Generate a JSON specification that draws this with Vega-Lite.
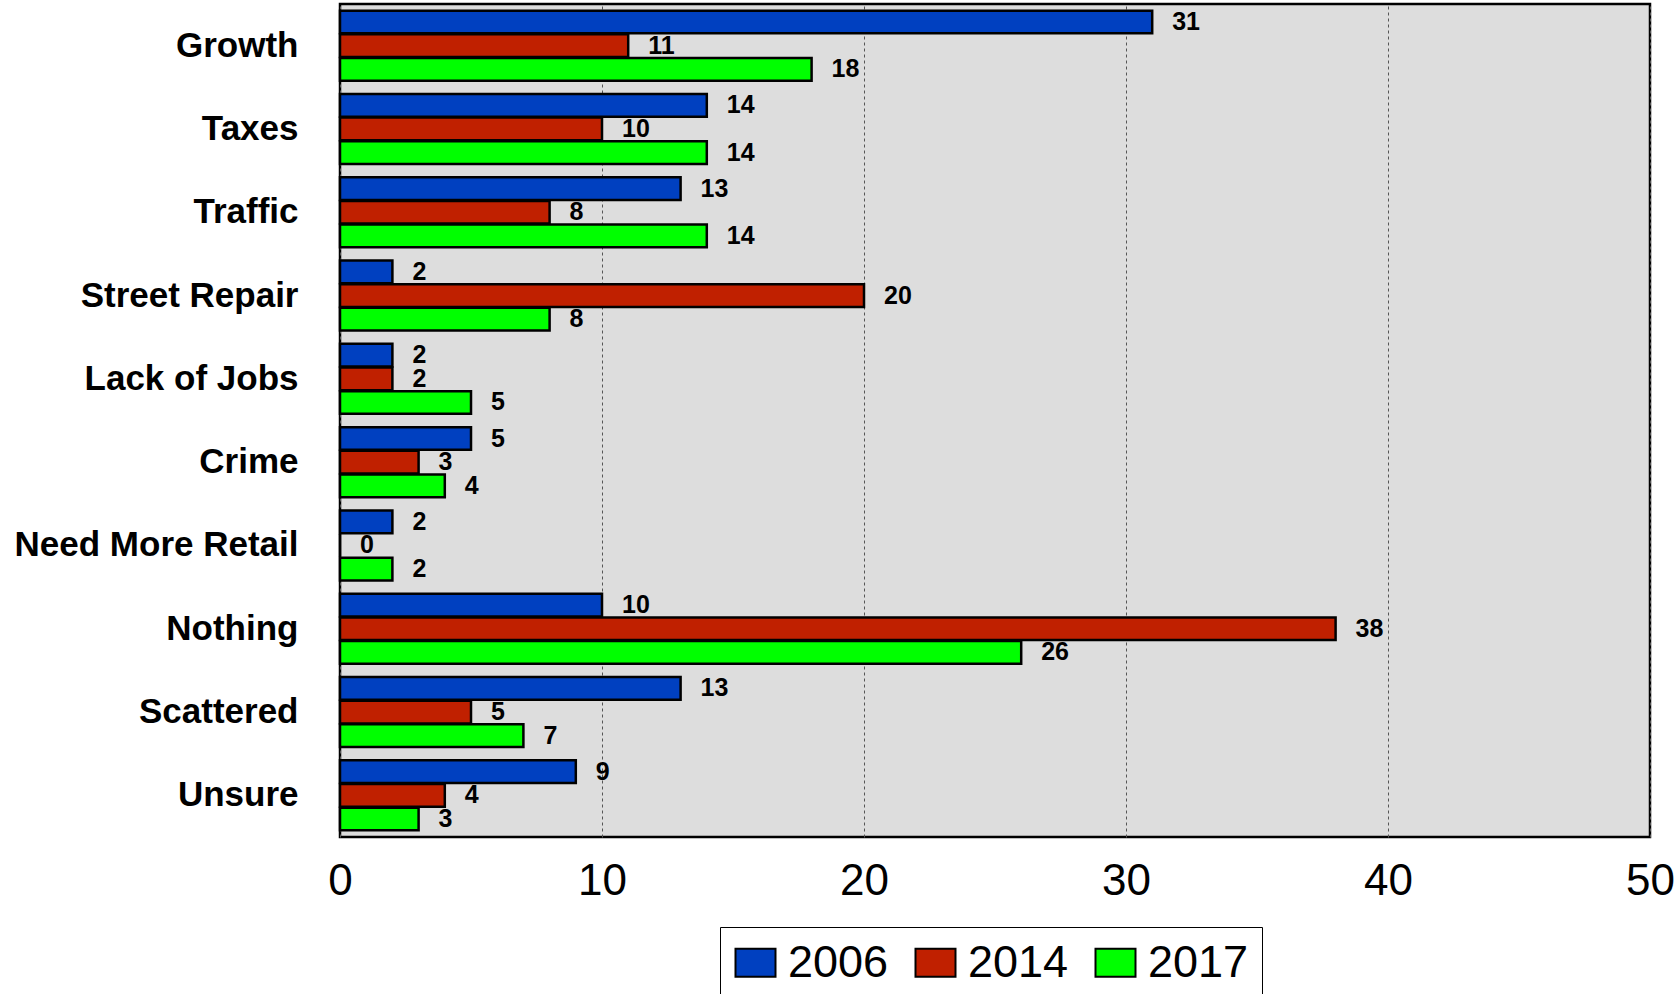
{
  "$schema": "https://vega.github.io/schema/vega-lite/v6.json",
  "width": 1310,
  "height": 833,
  "autosize": {"type": "none"},
  "padding": {"left": 340, "top": 4, "right": 26, "bottom": 157},
  "background": "white",
  "config": {
    "view": {"fill": "#DDDDDD", "stroke": "black", "strokeWidth": 2.5},
    "font": "Liberation Sans"
  },
  "data": {
    "values": [
      {"issue": "Growth", "year": "2006", "value": 31},
      {"issue": "Growth", "year": "2014", "value": 11},
      {"issue": "Growth", "year": "2017", "value": 18},
      {"issue": "Taxes", "year": "2006", "value": 14},
      {"issue": "Taxes", "year": "2014", "value": 10},
      {"issue": "Taxes", "year": "2017", "value": 14},
      {"issue": "Traffic", "year": "2006", "value": 13},
      {"issue": "Traffic", "year": "2014", "value": 8},
      {"issue": "Traffic", "year": "2017", "value": 14},
      {"issue": "Street Repair", "year": "2006", "value": 2},
      {"issue": "Street Repair", "year": "2014", "value": 20},
      {"issue": "Street Repair", "year": "2017", "value": 8},
      {"issue": "Lack of Jobs", "year": "2006", "value": 2},
      {"issue": "Lack of Jobs", "year": "2014", "value": 2},
      {"issue": "Lack of Jobs", "year": "2017", "value": 5},
      {"issue": "Crime", "year": "2006", "value": 5},
      {"issue": "Crime", "year": "2014", "value": 3},
      {"issue": "Crime", "year": "2017", "value": 4},
      {"issue": "Need More Retail", "year": "2006", "value": 2},
      {"issue": "Need More Retail", "year": "2014", "value": 0},
      {"issue": "Need More Retail", "year": "2017", "value": 2},
      {"issue": "Nothing", "year": "2006", "value": 10},
      {"issue": "Nothing", "year": "2014", "value": 38},
      {"issue": "Nothing", "year": "2017", "value": 26},
      {"issue": "Scattered", "year": "2006", "value": 13},
      {"issue": "Scattered", "year": "2014", "value": 5},
      {"issue": "Scattered", "year": "2017", "value": 7},
      {"issue": "Unsure", "year": "2006", "value": 9},
      {"issue": "Unsure", "year": "2014", "value": 4},
      {"issue": "Unsure", "year": "2017", "value": 3}
    ]
  },
  "encoding": {
    "y": {
      "field": "issue",
      "type": "nominal",
      "sort": ["Growth", "Taxes", "Traffic", "Street Repair", "Lack of Jobs", "Crime", "Need More Retail", "Nothing", "Scattered", "Unsure"],
      "scale": {"paddingInner": 0.16, "paddingOuter": 0.08},
      "axis": {
        "title": null,
        "ticks": false,
        "domain": false,
        "labelFontSize": 35,
        "labelFontWeight": "bold",
        "labelColor": "black",
        "labelPadding": 42,
        "labelLimit": 400,
        "labelFont": "Liberation Sans"
      }
    },
    "yOffset": {
      "field": "year",
      "type": "nominal",
      "sort": ["2006", "2014", "2017"],
      "scale": {"paddingInner": 0.04, "paddingOuter": 0}
    },
    "x": {
      "field": "value",
      "type": "quantitative",
      "scale": {"domain": [0, 50], "nice": false},
      "axis": {
        "title": null,
        "values": [0, 10, 20, 30, 40, 50],
        "ticks": false,
        "domain": false,
        "labelFontSize": 44,
        "labelColor": "black",
        "labelPadding": 22,
        "labelFlush": false,
        "labelFont": "Liberation Sans",
        "grid": true,
        "gridColor": "#555555",
        "gridDash": [3, 3],
        "gridWidth": 1
      }
    }
  },
  "layer": [
    {
      "mark": {"type": "bar", "stroke": "black", "strokeWidth": 2.5},
      "encoding": {
        "color": {
          "field": "year",
          "type": "nominal",
          "scale": {"domain": ["2006", "2014", "2017"], "range": ["#0040C0", "#C02000", "#00FF00"]},
          "legend": {
            "title": null,
            "orient": "none",
            "legendX": 380,
            "legendY": 923,
            "direction": "horizontal",
            "fillColor": "white",
            "strokeColor": "black",
            "padding": 13,
            "symbolType": "M-1,-0.7H1V0.7H-1Z",
            "symbolSize": 1600,
            "symbolStrokeColor": "black",
            "symbolStrokeWidth": 2,
            "labelFontSize": 45,
            "labelFont": "Liberation Sans",
            "labelColor": "black",
            "labelOffset": 10,
            "columnPadding": 22,
            "labelLimit": 300
          }
        }
      }
    },
    {
      "mark": {"type": "text", "align": "left", "baseline": "middle", "dx": 20, "fontSize": 25, "fontWeight": "bold", "font": "Liberation Sans", "color": "black"},
      "encoding": {
        "text": {"field": "value", "type": "quantitative"}
      }
    }
  ]
}
